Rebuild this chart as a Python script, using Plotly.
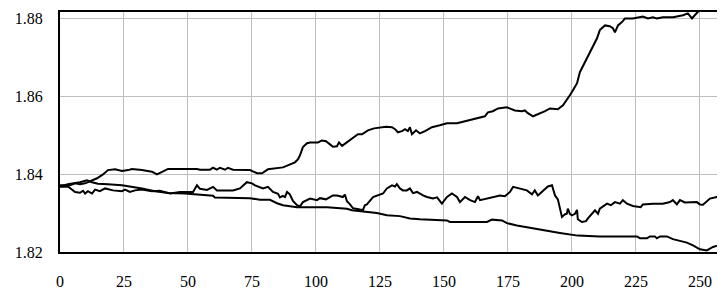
import plotly.graph_objects as go

# Series A (upper line)
a_x = [0, 3.9, 5.9, 7.8, 9.8, 11.7, 14.5, 16.8, 18.75, 21.5, 24.2, 26.6, 28.1, 32, 35.9, 37.9, 39.8, 42.2, 46.9, 53.5,
       54.7, 58.6, 59.8, 61.3, 62.5, 64.5, 65.6, 67.6, 74.2, 77, 78.9, 81.25, 87.1, 89.8, 91.8, 93, 93.75, 94.9, 96.5,
       97.7, 100.8, 102.3, 103.9, 105.5, 106.6, 108.2, 109, 110.2, 111.7, 114, 116.4, 118, 120.3, 122.7, 127.3, 129.7,
       130.9, 132, 133.6, 134.8, 135.9, 136.7, 137.5, 139.1, 140.6, 142.6, 145.3, 148.4, 151.2, 155.1, 157, 160.2,
       163.3, 166, 167.2, 169.1, 171.1, 174.6, 177.7, 180.5, 181.6, 182.8, 184.8, 186.7, 189.5, 191.4, 194.5, 196.5,
       198, 199.2, 200.4, 202, 203.1, 204.7, 207, 208.2, 209.8, 210.9, 212.9, 214.8, 216, 216.8, 218, 219.9, 220.7,
       223.8, 227.7, 229.7, 231.6, 233.2, 235.5, 239.5, 243.4, 245.3, 246.9, 248, 249.2, 250.8]
a_y = [1.8371, 1.8371, 1.8376, 1.8374, 1.8376, 1.8381, 1.8389, 1.8399, 1.8410, 1.8412, 1.8408, 1.8410, 1.8413, 1.8410,
       1.8406, 1.8399, 1.8406, 1.8413, 1.8413, 1.8413, 1.8411, 1.8411, 1.8416, 1.8411, 1.8416, 1.8411, 1.8416, 1.8411,
       1.8410, 1.8402, 1.8402, 1.8412, 1.8417, 1.8425, 1.8430, 1.8438, 1.8448, 1.8469, 1.8479, 1.8481, 1.8481, 1.8486,
       1.8484, 1.8476, 1.8470, 1.8471, 1.8481, 1.8472, 1.8479, 1.8492, 1.8502, 1.8502, 1.8512, 1.8517, 1.8521, 1.8520,
       1.8515, 1.8507, 1.8510, 1.8515, 1.8510, 1.8520, 1.8502, 1.8512, 1.8504, 1.8510, 1.8520, 1.8525, 1.8530, 1.8530,
       1.8533, 1.8538, 1.8543, 1.8548, 1.8558, 1.8561, 1.8568, 1.8571, 1.8563, 1.8561, 1.8563, 1.8556, 1.8548, 1.8553,
       1.8561, 1.8568, 1.8566, 1.8576, 1.8589, 1.8602, 1.8615, 1.8633, 1.8661, 1.8681, 1.8710, 1.8725, 1.8748, 1.8769,
       1.8781, 1.8779, 1.8774, 1.8763, 1.8781, 1.8792, 1.8799, 1.8799, 1.8804, 1.8799, 1.8802, 1.8799, 1.8802, 1.8802,
       1.8807, 1.8812, 1.8799, 1.8807, 1.8815, 1.8827]

# Series B (middle line)
b_x = [0, 3.1, 5.9, 7.8, 9, 9.8, 10.9, 12.5, 13.7, 15.6, 17.6, 20.7, 24.2, 25.4, 27.3, 29.3, 32, 35.9, 39, 41, 43, 46.9,
       52, 53.5, 54.7, 57.4, 59.8, 61.3, 67.6, 70.3, 73, 75, 76.2, 79.3, 81.25, 83.2, 85.2, 85.9, 87.1, 87.9, 88.7,
       89.8, 91, 92.6, 93.75, 94.9, 97.7, 100.4, 101.6, 103.9, 105.5, 106.6, 108.2, 110.5, 111.3, 112.1, 113.3, 114.5,
       117.2, 118.4, 119.1, 119.9, 122.3, 125, 126.2, 127.7, 128.9, 129.7, 130.9, 131.6, 132.8, 134, 135.5, 136.7,
       137.9, 139.5, 140.6, 141.8, 143.4, 145.7, 147.3, 149.2, 151.2, 153.1, 155.1, 156.25, 158.2, 160.2, 162.1, 163.3,
       164.1, 166.8, 169.1, 171.9, 173.8, 175.8, 177, 179.7, 182.4, 184.4, 185.5, 186.7, 188.7, 190.6, 192.2, 193.4,
       194.5, 195.3, 196.1, 197.3, 198, 198.4, 199.2, 200, 201.2, 202, 202.3, 203.9, 205.5, 206.25, 207.8, 209, 210.2,
       210.9, 213.7, 215.2, 216.8, 218.75, 219.9, 221.5, 223.8, 226.9, 227.7, 231.6, 235.5, 238.3, 239.45, 241, 242.2,
       244.1, 248.8, 250, 251.2, 253.9, 256.6, 259.8]
b_y = [1.8367, 1.8368, 1.8354, 1.8352, 1.8357, 1.8350, 1.8356, 1.8350, 1.8360, 1.8356, 1.8363, 1.8358, 1.8356, 1.8360,
       1.8354, 1.8358, 1.8360, 1.8356, 1.8357, 1.8354, 1.8350, 1.8354, 1.8354, 1.8371, 1.8362, 1.8359, 1.8367, 1.8358,
       1.8358, 1.8363, 1.8379, 1.8376, 1.8371, 1.8363, 1.8367, 1.8354, 1.8349, 1.8340, 1.8344, 1.8341, 1.8354, 1.8348,
       1.8331, 1.8320, 1.8317, 1.8328, 1.8337, 1.8333, 1.8338, 1.8335, 1.8341, 1.8345, 1.8345, 1.8341, 1.8347, 1.8330,
       1.8322, 1.8312, 1.8309, 1.8308, 1.8320, 1.8322, 1.8341, 1.8347, 1.8350, 1.8363, 1.8367, 1.8371, 1.8368, 1.8374,
       1.8363, 1.8358, 1.8358, 1.8363, 1.8351, 1.8354, 1.8350, 1.8345, 1.8341, 1.8337, 1.8340, 1.8324, 1.8341, 1.8350,
       1.8341, 1.8328, 1.8341, 1.8333, 1.8328, 1.8343, 1.8333, 1.8337, 1.8341, 1.8345, 1.8343, 1.8354, 1.8367, 1.8363,
       1.8358, 1.8348, 1.8358, 1.8345, 1.8358, 1.8368, 1.8371, 1.8345, 1.8335, 1.8312, 1.8290, 1.8297, 1.8298, 1.8311,
       1.8298, 1.8294, 1.8298, 1.8308, 1.8284, 1.8277, 1.8279, 1.8286, 1.8298, 1.8307, 1.8298, 1.8311, 1.8324, 1.8320,
       1.8328, 1.8324, 1.8333, 1.8324, 1.8318, 1.8315, 1.8322, 1.8324, 1.8324, 1.8328, 1.8333, 1.8322, 1.8333, 1.8327,
       1.8328, 1.8322, 1.8321, 1.8337, 1.8341, 1.8341]

# Series C (lower line)
c_x = [0, 3.1, 7.8, 10.5, 12.5, 14.8, 18.75, 24.2, 32, 37.1, 42.2, 48.8, 59.8, 60.5, 74.2, 78.1, 82, 84.8, 87.1, 92.6,
       104.3, 112.1, 114, 118.4, 123.8, 127.7, 132.8, 136.7, 140.6, 151.2, 152.3, 166.8, 168.75, 172.7, 174.6, 178.5,
       182.4, 186.3, 191.4, 195.3, 198, 202.3, 210.9, 225.4, 226.6, 229.3, 230.5, 232.4, 233.2, 234.4, 237.1, 239.45,
       244.9, 247.3, 250, 252.7, 255.1, 257.8, 259.8]
c_y = [1.8368, 1.8374, 1.8379, 1.8384, 1.8379, 1.8375, 1.8374, 1.8371, 1.8363, 1.8356, 1.8351, 1.8350, 1.8344, 1.8340,
       1.8338, 1.8334, 1.8334, 1.8325, 1.8320, 1.8315, 1.8315, 1.8311, 1.8307, 1.8303, 1.8300, 1.8294, 1.8292, 1.8286,
       1.8284, 1.8281, 1.8277, 1.8277, 1.8283, 1.8281, 1.8274, 1.8268, 1.8263, 1.8258, 1.8253, 1.8249, 1.8247, 1.8242,
       1.8240, 1.8240, 1.8235, 1.8235, 1.8240, 1.8240, 1.8235, 1.8240, 1.8240, 1.8233, 1.8224, 1.8217, 1.8207, 1.8204,
       1.8213, 1.8219, 1.8222]

x_ticks = [0, 25, 50, 75, 100, 125, 150, 175, 200, 225, 250]
y_ticks = [1.82, 1.84, 1.86, 1.88]
y_tick_labels = ["1.82", "1.84", "1.86", "1.88"]

fig = go.Figure()
for xs, ys in [(a_x, a_y), (b_x, b_y), (c_x, c_y)]:
    fig.add_trace(go.Scatter(x=xs, y=ys, mode="lines",
                             line=dict(color="black", width=2), showlegend=False,
                             hoverinfo="skip"))

font = dict(family="Liberation Serif, Times New Roman, serif", size=16, color="black")
fig.update_layout(
    width=717, height=282,
    margin=dict(l=52, r=0, t=4, b=38),
    paper_bgcolor="white", plot_bgcolor="white",
    font=font,
    xaxis=dict(range=[0, 259.8], tickvals=x_ticks, showgrid=True, gridcolor="#bdbdbd", gridwidth=1,
               showline=True, linecolor="black", linewidth=2, mirror=True, zeroline=False,
               ticks="", ticklabelstandoff=14, tickfont=font, automargin=False),
    yaxis=dict(range=[1.82, 1.88154], tickvals=y_ticks, ticktext=y_tick_labels, showgrid=True,
               gridcolor="#bdbdbd", gridwidth=1, showline=True, linecolor="black", linewidth=2,
               zeroline=False, ticks="", ticklabelstandoff=12, tickfont=font, automargin=False),
)

fig.write_html("out.html")
